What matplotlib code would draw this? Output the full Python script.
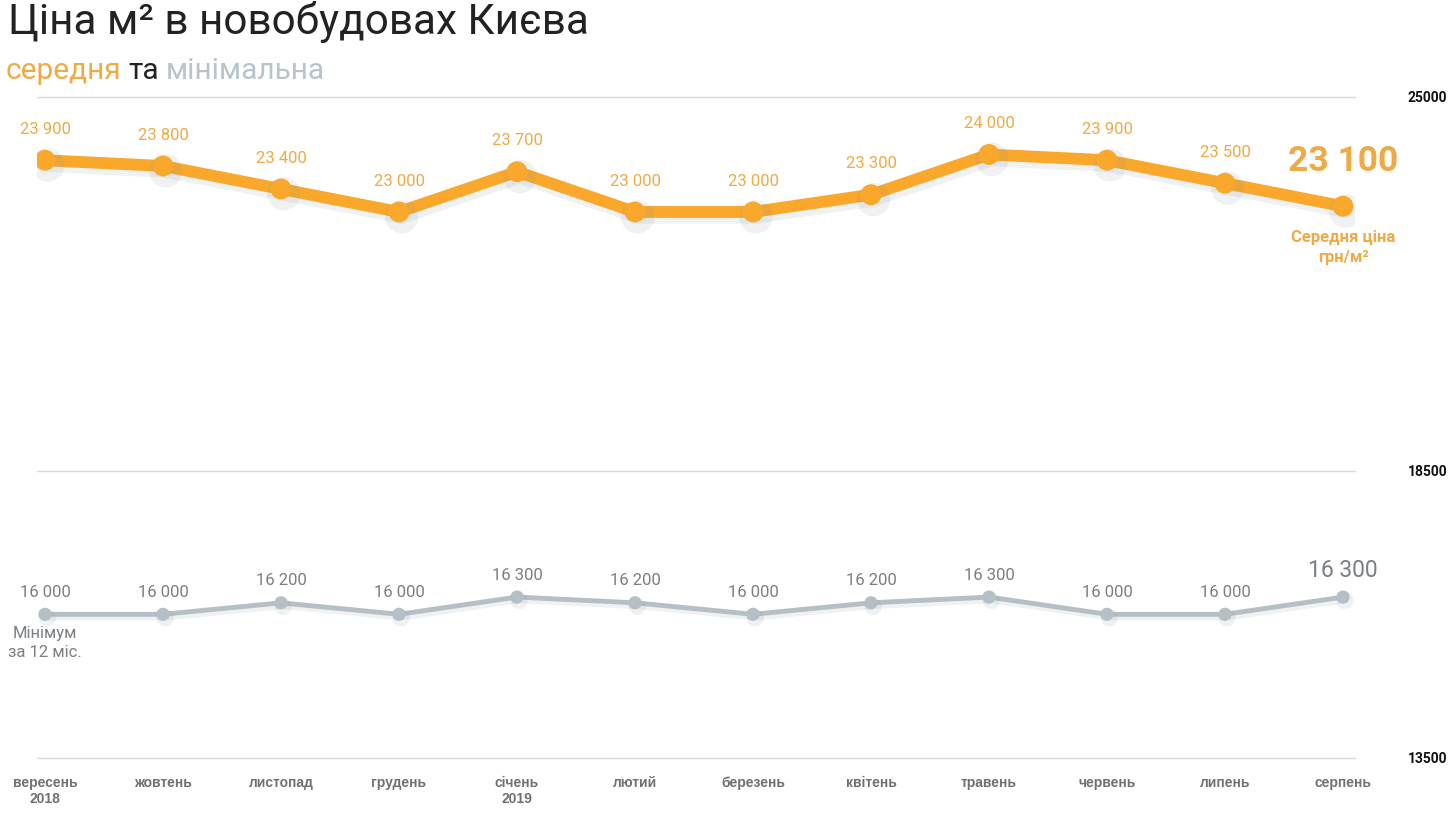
import matplotlib
matplotlib.use("Agg")
from matplotlib import pyplot as plt
import matplotlib.patheffects as pe

months = ["вересень\n2018", "жовтень", "листопад", "грудень", "січень\n2019", "лютий",
          "березень", "квітень", "травень", "червень", "липень", "серпень"]
avg_price = [23900, 23800, 23400, 23000, 23700, 23000, 23000, 23300, 24000, 23900, 23500, 23100]
min_price = [16000, 16000, 16200, 16000, 16300, 16200, 16000, 16200, 16300, 16000, 16000, 16300]
y_ticks = [13500, 18500, 25000]

orange = "#f9a82b"
orange_txt = "#eeab45"
grey = "#b4bfc6"
grey_txt = "#7a7f83"

plt.rcParams['font.family'] = ['Roboto', 'DejaVu Sans']

W, H = 1456, 820
fig = plt.figure(figsize=(W / 100, H / 100), dpi=100)
ax = fig.add_axes([37 / W, 1 - 759 / H, (1355 - 37) / W, (759 - 98) / H])
x = list(range(len(months)))
ax.set_xlim(-(45 - 37) / 118, (1355 - 45) / 118)
ax.set_ylim(13500, 25000)

for t in y_ticks:
    ax.axhline(t, color="#d9d9d9", linewidth=1, zorder=0, clip_on=False)
    ax.text(1.07, t, str(t), transform=ax.get_yaxis_transform(), ha="right", va="center",
            fontsize=10, fontweight="bold", color="#111111")

# soft drop shadow under the lines
shadow_o = [pe.SimpleLineShadow(offset=(2, -3.5), shadow_color="#8a95a5", alpha=0.13, linewidth=10), pe.Normal()]
ax.plot(x, avg_price, color=orange, linewidth=8.5, marker="o", markersize=14,
        solid_capstyle="round", path_effects=shadow_o, zorder=3)
shadow_g = [pe.SimpleLineShadow(offset=(1.5, -2.5), shadow_color="#8a95a5", alpha=0.13, linewidth=4), pe.Normal()]
ax.plot(x, min_price, color=grey, linewidth=3.5, marker="o", markersize=8.5,
        path_effects=shadow_g, zorder=3)

for i, v in enumerate(avg_price[:-1]):
    ax.annotate(f"{v:,}".replace(",", " "), (i, v), xytext=(0, 23), textcoords="offset points",
                ha="center", va="center", fontsize=12, color=orange_txt)
ax.annotate(f"{avg_price[-1]:,}".replace(",", " "), (x[-1], avg_price[-1]), xytext=(0, 33),
            textcoords="offset points", ha="center", va="center", fontsize=25.5,
            fontweight="bold", color=orange_txt)
ax.annotate("Середня ціна\nгрн/м²", (x[-1], avg_price[-1]), xytext=(0, -16),
            textcoords="offset points", ha="center", va="top", fontsize=12,
            fontweight="bold", color=orange_txt, linespacing=1.45)

for i, v in enumerate(min_price[:-1]):
    ax.annotate(f"{v:,}".replace(",", " "), (i, v), xytext=(0, 16.5), textcoords="offset points",
                ha="center", va="center", fontsize=12, color=grey_txt)
ax.annotate(f"{min_price[-1]:,}".replace(",", " "), (x[-1], min_price[-1]), xytext=(0, 20),
            textcoords="offset points", ha="center", va="center", fontsize=16.5, color=grey_txt)
ax.annotate("Мінімум\nза 12 міс.", (x[0], min_price[0]), xytext=(0, -8),
            textcoords="offset points", ha="center", va="top", fontsize=12,
            color=grey_txt, linespacing=1.3)

ax.set_xticks(x)
ax.set_xticklabels(months, fontsize=10, fontweight="bold", color="#707070",
                   family=['Liberation Sans', 'DejaVu Sans'], linespacing=1.25)
ax.tick_params(axis="x", length=0, pad=12)
ax.set_yticks([])
for s in ax.spines.values():
    s.set_visible(False)

fig.text(8 / W, 1 - 22 / H, "Ціна м² в новобудовах Києва", fontsize=30.4, color="#222222",
         va="center", ha="left")
t1 = fig.text(6 / W, 1 - 71 / H, "середня", fontsize=21.5, color=orange_txt, va="center", ha="left")
fig.canvas.draw()
r = fig.canvas.get_renderer()
bb = t1.get_window_extent(r)
t2 = fig.text((bb.x1 + 7) / W, 1 - 71 / H, "та", fontsize=21.5, color="#222222", va="center", ha="left")
bb2 = t2.get_window_extent(r)
fig.text((bb2.x1 + 7) / W, 1 - 71 / H, "мінімальна", fontsize=21.5, color="#b8c3ca", va="center", ha="left")

fig.savefig("out.png", dpi=100, facecolor="white")
